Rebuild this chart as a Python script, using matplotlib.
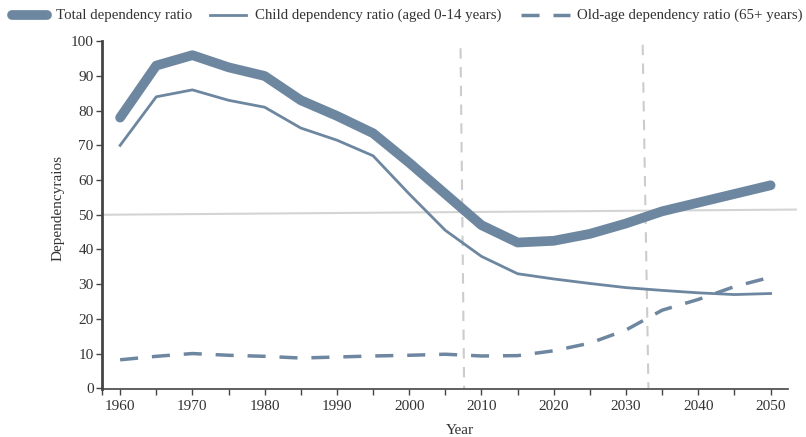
import numpy as np
import matplotlib.pyplot as plt
from matplotlib.lines import Line2D

plt.rcParams['font.family'] = ['Liberation Serif', 'DejaVu Serif']

years = [1960, 1965, 1970, 1975, 1980, 1985, 1990, 1995, 2000, 2005,
         2010, 2015, 2020, 2025, 2030, 2035, 2040, 2045, 2050]
total = [78, 93, 96, 92.5, 90, 83, 78.5, 73.5, 65, 56,
         47, 42, 42.5, 44.5, 47.5, 51, 53.5, 56, 58.5]
child = [70, 84, 86, 83, 81, 75, 71.5, 67, 56, 45.5,
         38, 33, 31.5, 30.2, 29, 28.2, 27.5, 27, 27.3]
old_age = [8.2, 9.2, 10, 9.5, 9.2, 8.7, 9, 9.3, 9.5, 9.8,
           9.3, 9.4, 10.8, 13, 16.8, 22.5, 25.6, 29.3, 32]

# reference marks drawn on the chart
ref_h = ([1957.5, 2053.5], [50, 51.5])
ref_v1 = ([2007.1, 2007.6], [98, 0])
ref_v2 = ([2032.3, 2033.1], [99, 0])

col = '#6e87a0'
txt = '#333333'
W, H = 806, 437

fig = plt.figure(figsize=(W / 100, H / 100), dpi=100)
ax = fig.add_axes([0.1266, 0.1092, 0.851, 0.7963])

ax.plot(ref_h[0], ref_h[1], color='#d4d4d4', lw=1.5, clip_on=False, zorder=1)
for v in (ref_v1, ref_v2):
    ax.plot(v[0], v[1], color='#cccccc', lw=1.5, ls=(0, (5, 4)), clip_on=False, zorder=1)

styles = [dict(lw=7, solid_capstyle='round', solid_joinstyle='round'),
          dict(lw=2, solid_joinstyle='round'),
          dict(lw=2.5, ls=(0, (5.2, 4.0)))]
labels = ['Total dependency ratio', 'Child dependency ratio (aged 0-14 years)',
          'Old-age dependency ratio (65+ years)']
for ys, st, lab in zip([total, child, old_age], styles, labels):
    ax.plot(years, ys, color=col, label=lab, zorder=3, **st)

ax.set_xlim(1957.5, 2052.4)
ax.set_ylim(-0.3, 100)
ax.set_xticks(range(1960, 2051, 10))
ax.set_xticks([1957.5] + list(range(1965, 2050, 10)), minor=True)
ax.set_yticks(range(0, 101, 10))

for s in ['top', 'right']:
    ax.spines[s].set_visible(False)
for s in ['left', 'bottom']:
    ax.spines[s].set_color('#444444')
ax.spines['left'].set_linewidth(2)
ax.spines['bottom'].set_linewidth(1.2)
ax.tick_params(which='both', colors='#444444', labelcolor=txt, labelsize=11, length=4, width=1)
ax.tick_params(axis='y', pad=2)

fig.text(0.571, 0.016, 'Year', color=txt, fontsize=11, ha='center', va='center')
ax.set_ylabel('Dependencyraios', color=txt, fontsize=11)
ax.yaxis.set_label_coords(-0.054, 0.52)

# legend drawn by hand along the top (pixel positions)
leg_y = 1 - 15 / H
leg = [(12, 47, 56), (210, 246, 255), (521, 570, 577)]
for (x0, x1, xt), st, lab in zip(leg, styles, labels):
    fig.add_artist(Line2D([x0 / W, x1 / W], [leg_y, leg_y], color=col,
                          transform=fig.transFigure, **st))
    fig.text(xt / W, leg_y, lab, color=txt, fontsize=10.7, va='center', ha='left')

fig.savefig('out.png', dpi=100)
